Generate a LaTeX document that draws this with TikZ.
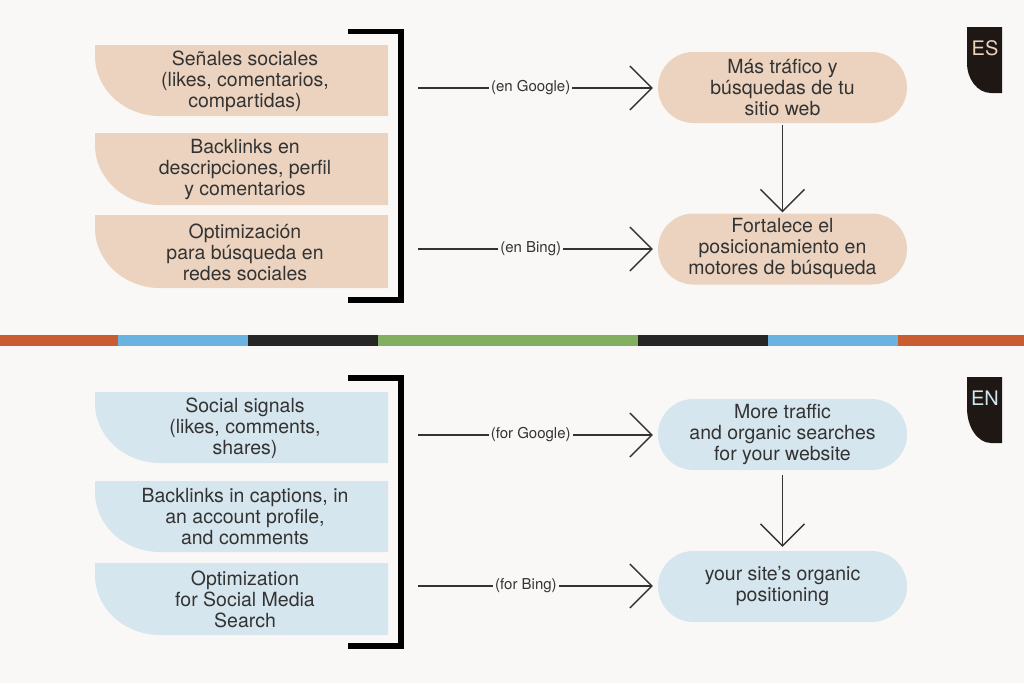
\documentclass[tikz,border=0pt]{standalone}
\usepackage{fontspec}
\setmainfont{TeX Gyre Heros}
\usetikzlibrary{arrows.meta}
\definecolor{bg}{HTML}{F9F8F6}
\definecolor{beige}{HTML}{EBD3BF}
\definecolor{lblue}{HTML}{D6E6EE}
\definecolor{tabc}{HTML}{1F1714}
\definecolor{txt}{HTML}{333333}
\definecolor{esl}{HTML}{EBD3BF}
\definecolor{enl}{HTML}{CFE5EF}
\definecolor{sorange}{HTML}{C95C30}
\definecolor{sblue}{HTML}{6AB2E0}
\definecolor{sblack}{HTML}{262626}
\definecolor{sgreen}{HTML}{82AF60}
\newcommand\leftbox[5]{\fill[#5] (#1,#2) -- (#3,#2) -- (#3,#4) -- ({#1+65},#4) arc[start angle=90,end angle=180,x radius=65,y radius=60] -- cycle;}
\newcommand\tabshape[3]{\fill[tabc] (967,#1) -- (1002,#1) -- (1002,#2) -- (991,#2) arc[start angle=90,end angle=180,x radius=24,y radius=#3] -- cycle;}
\tikzset{
  maintext/.style={align=center, text=txt, font=\fontsize{19.5}{21}\selectfont, inner sep=0pt},
  lbl/.style={fill=bg, inner sep=2pt, text=txt, font=\fontsize{15}{17}\selectfont},
  rbox/.style={maintext, rounded corners=35.5pt, minimum width=249pt, minimum height=71pt},
  conn/.style={line width=1.3pt, draw=txt, -{Straight Barb[length=22pt,width=44pt,line width=1.3pt]}},
  brk/.style={line width=5.5pt, draw=black},
  tablbl/.style={font=\fontsize{20}{22}\selectfont, inner sep=0pt}
}
\begin{document}
\begin{tikzpicture}[x=1pt,y=-1pt]
\fill[bg] (0,0) rectangle (1024,683);
\useasboundingbox (0,0) rectangle (1024,683);

% ---------------- ES ----------------
\leftbox{95}{45}{388}{116}{beige}
\leftbox{95}{133}{388}{205}{beige}
\leftbox{95}{215}{388}{288}{beige}
\node[maintext] (es1) at (245,81.5) {Señales sociales\\(likes, comentarios,\\compartidas)};
\node[maintext] (es2) at (245,169.5) {Backlinks en\\descripciones, perfil\\y comentarios};
\node[maintext] (es3) at (245,252) {Optimización\\para búsqueda en\\redes sociales};
\draw[brk] (348,31.5) -- (401,31.5) -- (401,300) -- (348,300);

\node[rbox, fill=beige] (esr1) at (782.5,87.5) {Más tráfico y\\búsquedas de tu\\sitio web};
\node[rbox, fill=beige] (esr2) at (782.5,249) {Fortalece el\\posicionamiento en\\motores de búsqueda};
\coordinate (esg) at (418,88);
\coordinate (esb) at (418,249);
\draw[conn, shorten >=5pt] (esg) -- node[lbl, pos=0.47] {(en Google)} (esg -| esr1.west);
\draw[conn, shorten >=5pt] (esb) -- node[lbl, pos=0.47] {(en Bing)} (esb -| esr2.west);
\draw[conn, shorten <=2pt, shorten >=1pt] (esr1.south) -- (esr2.north);

\tabshape{27}{93}{30}
\node[tablbl, text=esl] (estab) at (985,48) {ES};

% ---------------- stripe ----------------
\fill[sorange] (0,335) rectangle (118,346);
\fill[sblue] (118,335) rectangle (248,346);
\fill[sblack] (248,335) rectangle (378,346);
\fill[sgreen] (378,335) rectangle (638,346);
\fill[sblack] (638,335) rectangle (768,346);
\fill[sblue] (768,335) rectangle (898,346);
\fill[sorange] (898,335) rectangle (1024,346);

% ---------------- EN ----------------
\leftbox{95}{392}{388}{463}{lblue}
\leftbox{95}{481}{388}{552}{lblue}
\leftbox{95}{563}{388}{635}{lblue}
\node[maintext] (en1) at (245,428) {Social signals\\(likes, comments,\\shares)};
\node[maintext] (en2) at (245,517) {Backlinks in captions, in\\an account profile,\\and comments};
\node[maintext] (en3) at (245,599.5) {Optimization\\for Social Media\\Search};
\draw[brk] (348,378) -- (401,378) -- (401,646) -- (348,646);

\node[rbox, fill=lblue] (enr1) at (782.5,434.5) {More traffic\\and organic searches\\for your website};
\node[rbox, fill=lblue] (enr2) at (782.5,586.5) {your site’s organic\\positioning};
\coordinate (eng) at (418,435);
\coordinate (enb) at (418,586);
\draw[conn, shorten >=5pt] (eng) -- node[lbl, pos=0.47] {(for Google)} (eng -| enr1.west);
\draw[conn, shorten >=5pt] (enb) -- node[lbl, pos=0.45] {(for Bing)} (enb -| enr2.west);
\draw[conn, shorten <=5pt, shorten >=4pt] (enr1.south) -- (enr2.north);

\tabshape{377}{443}{35}
\node[tablbl, text=enl] (entab) at (985,398) {EN};
\end{tikzpicture}
\end{document}
